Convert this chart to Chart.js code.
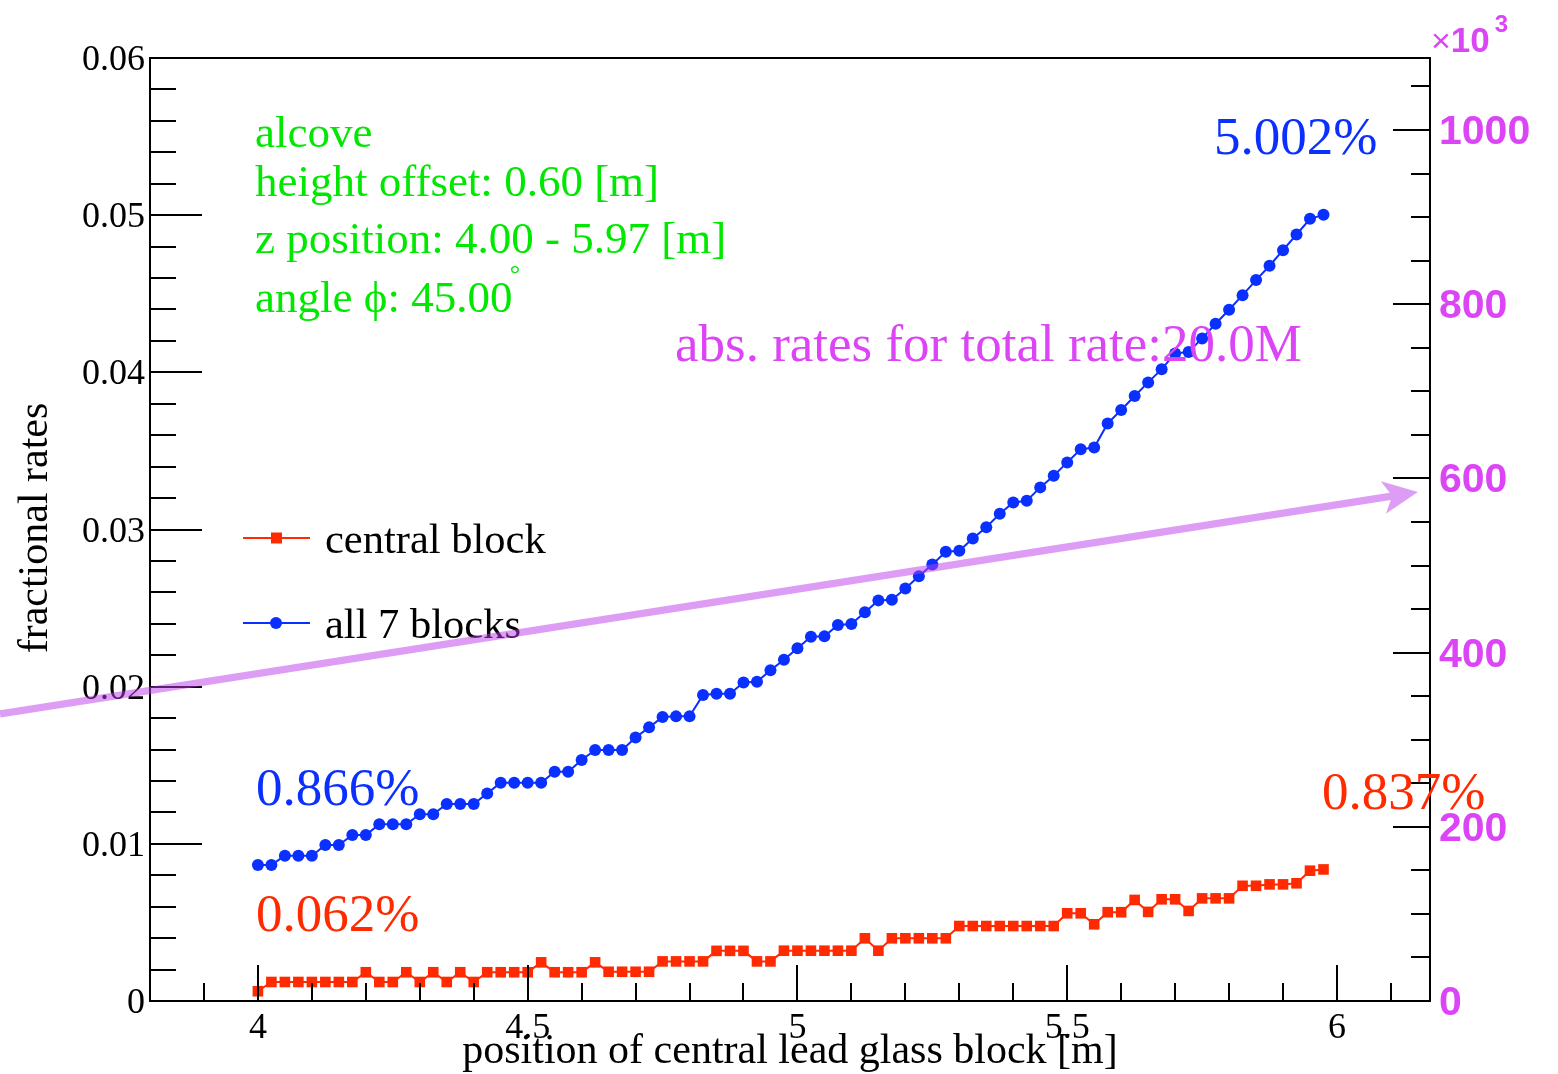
<!DOCTYPE html>
<html>
<head>
<meta charset="utf-8">
<title>fractional rates vs. position</title>
<script src="https://cdn.jsdelivr.net/npm/chart.js@4.4.1/dist/chart.umd.min.js"></script>
<style>
  html, body { margin: 0; padding: 0; background: #ffffff; }
  #wrap { width: 1558px; height: 1074px; position: relative; }
</style>
</head>
<body>
<div id="wrap"><canvas id="chart"></canvas></div>
<script>
// position of the central lead glass block [m]
const positions = [
  4.000, 4.025, 4.050, 4.075, 4.100, 4.125, 4.150, 4.175, 4.200, 4.225,
  4.250, 4.275, 4.300, 4.325, 4.350, 4.375, 4.400, 4.425, 4.450, 4.475,
  4.500, 4.525, 4.550, 4.575, 4.600, 4.625, 4.650, 4.675, 4.700, 4.725,
  4.750, 4.775, 4.800, 4.825, 4.850, 4.875, 4.900, 4.925, 4.950, 4.975,
  5.000, 5.025, 5.050, 5.075, 5.100, 5.125, 5.150, 5.175, 5.200, 5.225,
  5.250, 5.275, 5.300, 5.325, 5.350, 5.375, 5.400, 5.425, 5.450, 5.475,
  5.500, 5.525, 5.550, 5.575, 5.600, 5.625, 5.650, 5.675, 5.700, 5.725,
  5.750, 5.775, 5.800, 5.825, 5.850, 5.875, 5.900, 5.925, 5.950, 5.975
];

// fractional rate seen by the central block
const centralBlock = [
  0.00062, 0.00121, 0.00121, 0.00121, 0.00121, 0.00121, 0.00121, 0.00121, 0.00183, 0.00121,
  0.00121, 0.00183, 0.00121, 0.00183, 0.00121, 0.00183, 0.00121, 0.00183, 0.00183, 0.00183,
  0.00183, 0.00246, 0.00183, 0.00183, 0.00183, 0.00246, 0.00186, 0.00186, 0.00186, 0.00186,
  0.00252, 0.00252, 0.00252, 0.00252, 0.00319, 0.00319, 0.00319, 0.00252, 0.00252, 0.00320,
  0.00320, 0.00320, 0.00320, 0.00320, 0.00320, 0.00399, 0.00320, 0.00399, 0.00399, 0.00399,
  0.00399, 0.00399, 0.00477, 0.00477, 0.00477, 0.00477, 0.00477, 0.00477, 0.00477, 0.00477,
  0.00558, 0.00558, 0.00488, 0.00565, 0.00565, 0.00643, 0.00567, 0.00647, 0.00647, 0.00573,
  0.00653, 0.00653, 0.00653, 0.00733, 0.00733, 0.00742, 0.00742, 0.00749, 0.00829, 0.00837
];

// fractional rate summed over all 7 blocks
const allSevenBlocks = [
  0.00866, 0.00866, 0.00924, 0.00924, 0.00924, 0.00992, 0.00992, 0.01056, 0.01056, 0.01124,
  0.01124, 0.01124, 0.01188, 0.01188, 0.01253, 0.01253, 0.01253, 0.01321, 0.01389, 0.01389,
  0.01389, 0.01389, 0.01459, 0.01459, 0.01533, 0.01597, 0.01597, 0.01597, 0.01677, 0.01741,
  0.01807, 0.01811, 0.01811, 0.01947, 0.01955, 0.01955, 0.02027, 0.02031, 0.02104, 0.02171,
  0.02244, 0.02317, 0.02320, 0.02392, 0.02398, 0.02473, 0.02549, 0.02553, 0.02625, 0.02702,
  0.02778, 0.02858, 0.02865, 0.02943, 0.03015, 0.03100, 0.03172, 0.03183, 0.03268, 0.03342,
  0.03427, 0.03511, 0.03522, 0.03675, 0.03760, 0.03849, 0.03936, 0.04020, 0.04120, 0.04130,
  0.04216, 0.04309, 0.04398, 0.04491, 0.04587, 0.04678, 0.04777, 0.04877, 0.04977, 0.05002
];

// axis ticks and labels
const positionTicks = [4, 4.5, 5, 5.5, 6];
const positionTickLabels = ['4', '4.5', '5', '5.5', '6'];
const fractionTicks = [0, 0.01, 0.02, 0.03, 0.04, 0.05, 0.06];
const fractionTickLabels = ['0', '0.01', '0.02', '0.03', '0.04', '0.05', '0.06'];
const absTicks = [0, 200, 400, 600, 800, 1000];
const absTickLabels = ['0', '200', '400', '600', '800', '1000'];

// setup description
const infoLines = ['alcove', 'height offset: 0.60 [m]', 'z position: 4.00 - 5.97 [m]', 'angle \u03D5: 45.00'];
const totalRateLabel = 'abs. rates for total rate:20.0M';

// arrow pointing at the absolute-rate axis, in (position, fraction) units
const arrowFrom = { x: 3.522, y: 0.01826 };
const arrowTo = { x: 6.150, y: 0.03238 };

const BLUE = '#0a30ff';
const RED = '#ff2a00';
const GREEN = '#00e800';
const MAGENTA = '#dc45f5';
const SERIF = '"Liberation Serif", "Times New Roman", "DejaVu Serif", serif';
const SANS = '"Liberation Sans", Arial, Helvetica, sans-serif';

function pct(v) { return (v * 100).toFixed(3) + '%'; }

const framePlugin = {
  id: 'rootFrame',
  afterDraw(chart) {
    const ctx = chart.ctx;
    const a = chart.chartArea;
    const xs = chart.scales.x, ys = chart.scales.y, y2 = chart.scales.y2;
    ctx.save();

    // frame
    ctx.strokeStyle = '#000';
    ctx.lineWidth = 2;
    ctx.strokeRect(a.left, a.top, a.right - a.left, a.bottom - a.top);

    // bottom axis ticks (every 0.1 m, long every 0.5 m)
    ctx.lineWidth = 2;
    ctx.beginPath();
    for (let k = 39; k <= 61; k++) {
      const px = Math.round(xs.getPixelForValue(k / 10));
      const len = (k % 5 === 0) ? 36 : 18;
      ctx.moveTo(px, a.bottom);
      ctx.lineTo(px, a.bottom - len);
    }
    // left axis ticks (every 0.002, long every 0.01)
    for (let k = 1; k < 30; k++) {
      const py = Math.round(ys.getPixelForValue(k * 0.002));
      const len = (k % 5 === 0) ? 52 : 26;
      ctx.moveTo(a.left, py);
      ctx.lineTo(a.left + len, py);
    }
    // right axis ticks (every 50, long every 200)
    for (let k = 1; k <= 21; k++) {
      const py = Math.round(y2.getPixelForValue(k * 50));
      const len = (k % 4 === 0) ? 37 : 19;
      ctx.moveTo(a.right, py);
      ctx.lineTo(a.right - len, py);
    }
    ctx.stroke();

    // tick labels
    ctx.fillStyle = '#000';
    ctx.font = '36px ' + SERIF;
    ctx.textAlign = 'center';
    ctx.textBaseline = 'alphabetic';
    positionTicks.forEach((v, i) => {
      ctx.fillText(positionTickLabels[i], xs.getPixelForValue(v), a.bottom + 37);
    });
    ctx.textAlign = 'right';
    fractionTicks.forEach((v, i) => {
      ctx.fillText(fractionTickLabels[i], a.left - 5, ys.getPixelForValue(v) + 12);
    });
    ctx.fillStyle = MAGENTA;
    ctx.font = 'bold 41px ' + SANS;
    ctx.textAlign = 'left';
    absTicks.forEach((v, i) => {
      ctx.fillText(absTickLabels[i], a.right + 9, y2.getPixelForValue(v) + 14);
    });
    // exponent of the right axis
    ctx.font = '34px ' + SANS;
    ctx.fillText('\u00D7', a.right + 1, a.top - 6);
    const wx = ctx.measureText('\u00D7').width;
    ctx.font = 'bold 35px ' + SANS;
    ctx.fillText('10', a.right + 1 + wx, a.top - 6);
    const w10 = ctx.measureText('10').width;
    ctx.font = 'bold 24px ' + SANS;
    ctx.fillText('3', a.right + 6 + wx + w10, a.top - 26);

    // axis titles
    ctx.fillStyle = '#000';
    ctx.font = '42px ' + SERIF;
    ctx.textAlign = 'center';
    ctx.fillText('position of central lead glass block [m]', 790, 1063);
    ctx.save();
    ctx.translate(47, 528);
    ctx.rotate(-Math.PI / 2);
    ctx.fillText('fractional rates', 0, 0);
    ctx.restore();

    // setup description
    ctx.fillStyle = GREEN;
    ctx.font = '45px ' + SERIF;
    ctx.textAlign = 'left';
    const infoBase = [147, 196, 253, 312];
    infoLines.forEach((t, i) => ctx.fillText(t, 255, infoBase[i]));
    ctx.font = '26px ' + SERIF;
    ctx.textAlign = 'center';
    ctx.fillText('\u00B0', 515, 282);

    // end-point values
    ctx.font = '53px ' + SERIF;
    ctx.textAlign = 'left';
    ctx.fillStyle = BLUE;
    ctx.fillText(pct(allSevenBlocks[0]), 256, 805);
    ctx.fillText(pct(allSevenBlocks[allSevenBlocks.length - 1]), 1214, 154);
    ctx.fillStyle = RED;
    ctx.fillText(pct(centralBlock[0]), 256, 931);
    ctx.fillText(pct(centralBlock[centralBlock.length - 1]), 1322, 809);

    ctx.fillStyle = MAGENTA;
    ctx.fillText(totalRateLabel, 675, 361);

    // legend
    const legend = [
      { label: 'central block', color: RED, style: 'rect', y: 538 },
      { label: 'all 7 blocks', color: BLUE, style: 'circle', y: 623 }
    ];
    legend.forEach(l => {
      ctx.strokeStyle = l.color;
      ctx.lineWidth = 2;
      ctx.beginPath();
      ctx.moveTo(243, l.y);
      ctx.lineTo(310, l.y);
      ctx.stroke();
      ctx.fillStyle = l.color;
      if (l.style === 'rect') {
        ctx.fillRect(271, l.y - 5.5, 11, 11);
      } else {
        ctx.beginPath();
        ctx.arc(276, l.y, 6, 0, Math.PI * 2);
        ctx.fill();
      }
      ctx.fillStyle = '#000';
      ctx.font = '42.5px ' + SERIF;
      ctx.fillText(l.label, 325, l.y + 15);
    });

    // semi-transparent arrow towards the absolute-rate axis
    const sx = xs.getPixelForValue(arrowFrom.x), sy = ys.getPixelForValue(arrowFrom.y);
    const tx = xs.getPixelForValue(arrowTo.x), ty = ys.getPixelForValue(arrowTo.y);
    const dx = tx - sx, dy = ty - sy, d = Math.hypot(dx, dy);
    const ux = dx / d, uy = dy / d, nx = -uy, ny = ux;
    const L = 35, W = 16.5, notch = 9, h = 3.6;
    const sb = L - notch + notch * h / W;
    const pts = [
      [sx + h * nx, sy + h * ny],
      [tx - sb * ux + h * nx, ty - sb * uy + h * ny],
      [tx - L * ux + W * nx, ty - L * uy + W * ny],
      [tx, ty],
      [tx - L * ux - W * nx, ty - L * uy - W * ny],
      [tx - sb * ux - h * nx, ty - sb * uy - h * ny],
      [sx - h * nx, sy - h * ny]
    ];
    ctx.fillStyle = 'rgba(190, 60, 235, 0.5)';
    ctx.beginPath();
    pts.forEach((p, i) => i ? ctx.lineTo(p[0], p[1]) : ctx.moveTo(p[0], p[1]));
    ctx.closePath();
    ctx.fill();

    ctx.restore();
  }
};

new Chart(document.getElementById('chart'), {
  type: 'line',
  data: {
    datasets: [
      {
        label: 'central block',
        data: positions.map((x, i) => ({ x, y: centralBlock[i] })),
        borderColor: RED,
        backgroundColor: RED,
        borderWidth: 2,
        pointStyle: 'rect',
        pointRadius: 7.5,
        pointBorderWidth: 0,
        tension: 0,
        yAxisID: 'y'
      },
      {
        label: 'all 7 blocks',
        data: positions.map((x, i) => ({ x, y: allSevenBlocks[i] })),
        borderColor: BLUE,
        backgroundColor: BLUE,
        borderWidth: 2,
        pointStyle: 'circle',
        pointRadius: 6,
        pointBorderWidth: 0,
        tension: 0,
        yAxisID: 'y'
      }
    ]
  },
  options: {
    responsive: true,
    maintainAspectRatio: false,
    animation: false,
    events: [],
    layout: { padding: { left: 150, right: 128, top: 58, bottom: 73 } },
    plugins: { legend: { display: false }, tooltip: { enabled: false } },
    scales: {
      x: { type: 'linear', min: 3.8, max: 6.1724, display: false },
      y: { type: 'linear', min: 0, max: 0.06, display: false },
      y2: { type: 'linear', position: 'right', min: 0, max: 1082.7, display: false }
    }
  },
  plugins: [framePlugin]
});
</script>
</body>
</html>
